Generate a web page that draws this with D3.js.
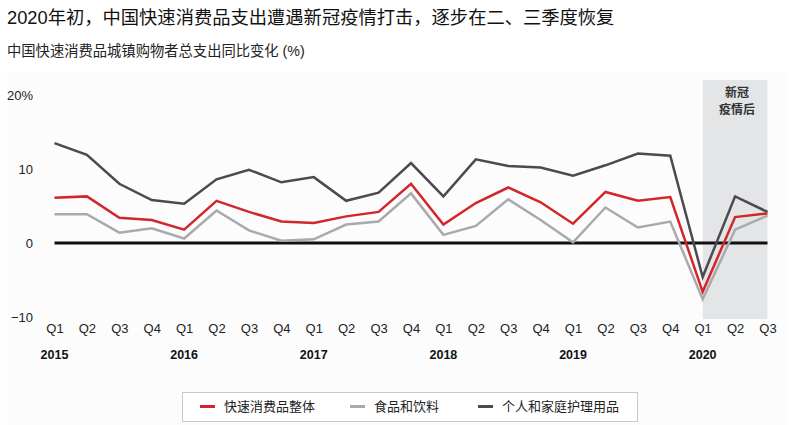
<!DOCTYPE html>
<html>
<head>
<meta charset="utf-8">
<script src="https://cdn.jsdelivr.net/npm/d3@7"></script>
<style>
	body { margin: 0; background: #fff; }
	svg { display: block; font-family: "Liberation Sans", Arial, "Noto Sans CJK SC", sans-serif; }
</style>
</head>
<body>
<div id="chart"></div>
<script>
const quarters = ["Q1","Q2","Q3","Q4","Q1","Q2","Q3","Q4","Q1","Q2","Q3","Q4","Q1","Q2","Q3","Q4","Q1","Q2","Q3","Q4","Q1","Q2","Q3"];
const years = ["2015","2016","2017","2018","2019","2020"];
const yTicks = [-10, 0, 10, 20];

// 快速消费品整体
const overall = [6.1, 6.3, 3.4, 3.1, 1.8, 5.7, 4.2, 2.9, 2.7, 3.6, 4.2, 8.0, 2.5, 5.4, 7.5, 5.5, 2.6, 6.9, 5.7, 6.2, -6.6, 3.5, 4.0];
// 食品和饮料
const food = [3.9, 3.9, 1.4, 2.0, 0.6, 4.4, 1.7, 0.3, 0.5, 2.5, 2.9, 6.7, 1.1, 2.3, 5.9, 3.1, 0.1, 4.8, 2.1, 2.9, -7.6, 1.8, 3.7];
// 个人和家庭护理用品
const personal = [13.5, 11.9, 8.0, 5.8, 5.3, 8.6, 9.9, 8.2, 8.9, 5.7, 6.8, 10.8, 6.3, 11.3, 10.4, 10.2, 9.1, 10.5, 12.1, 11.8, -4.6, 6.3, 4.2];

const series = [
	{ name: "快速消费品整体", values: overall, color: "#d2262b" },
	{ name: "食品和饮料", values: food, color: "#a9aaac" },
	{ name: "个人和家庭护理用品", values: personal, color: "#4b4b4d" }
];

const W = 799, H = 425;
const svg = d3.select("#chart").append("svg").attr("width", W).attr("height", H);

// faint panel behind the chart
svg.append("rect").attr("x", 7).attr("y", 72).attr("width", 780).attr("height", H - 72).attr("fill", "#fcfcfc");

svg.append("text").attr("x", 7).attr("y", 24)
	.attr("font-size", 18.3).attr("fill", "#111")
	.text("2020年初，中国快速消费品支出遭遇新冠疫情打击，逐步在二、三季度恢复");
svg.append("text").attr("x", 7).attr("y", 56)
	.attr("font-size", 14.3).attr("fill", "#222")
	.text("中国快速消费品城镇购物者总支出同比变化 (%)");

const idx = d3.range(quarters.length);
const x = d3.scaleLinear().domain([0, quarters.length - 1]).range([54.5, 767.5]);
const y = d3.scaleLinear().domain([-10, 20]).range([317, 95]);

// post-covid shaded band
svg.append("rect")
	.attr("x", x(20)).attr("y", 80)
	.attr("width", x(22) - x(20)).attr("height", 319 - 80)
	.attr("fill", "#e4e5e7");
svg.append("text").attr("x", (x(20) + x(22)) / 2 + 2).attr("y", 97)
	.attr("text-anchor", "middle").attr("font-size", 12).attr("font-weight", "bold").attr("fill", "#333")
	.text("新冠");
svg.append("text").attr("x", (x(20) + x(22)) / 2 + 2).attr("y", 114)
	.attr("text-anchor", "middle").attr("font-size", 12).attr("font-weight", "bold").attr("fill", "#333")
	.text("疫情后");

// y axis labels
const yAxis = d3.axisLeft(y).tickValues(yTicks).tickSize(0).tickPadding(0)
	.tickFormat(d => d === 20 ? "20%" : (d < 0 ? "\u2212" + Math.abs(d) : d));
const gy = svg.append("g").attr("transform", "translate(33,0)").call(yAxis);
gy.select(".domain").remove();
gy.selectAll("text").attr("font-size", 13).attr("fill", "#222").attr("font-family", "Liberation Sans, Arial, sans-serif");

// x axis labels
const xAxis = d3.axisBottom(x).tickValues(idx).tickSize(0).tickPadding(0).tickFormat(i => quarters[i]);
const gx = svg.append("g").attr("transform", "translate(0,324)").call(xAxis);
gx.select(".domain").remove();
gx.selectAll("text").attr("font-size", 13).attr("fill", "#222").attr("font-family", "Liberation Sans, Arial, sans-serif");

svg.append("g").selectAll("text").data(years).join("text")
	.attr("x", (d, i) => x(i * 4)).attr("y", 359)
	.attr("text-anchor", "middle").attr("font-size", 12.5).attr("font-weight", "bold").attr("fill", "#111")
	.text(d => d);

// zero line
svg.append("line")
	.attr("x1", x(0)).attr("x2", x(22))
	.attr("y1", y(0)).attr("y2", y(0))
	.attr("stroke", "#111").attr("stroke-width", 3);

const line = d3.line().x((d, i) => x(i)).y(d => y(d));
svg.append("g").selectAll("path").data(series).join("path")
	.attr("d", s => line(s.values))
	.attr("fill", "none")
	.attr("stroke", s => s.color)
	.attr("stroke-width", 2.5)
	.attr("stroke-linejoin", "miter");

// legend
const lg = svg.append("g");
lg.append("rect").attr("x", 182.5).attr("y", 392.5).attr("width", 455).attr("height", 29)
	.attr("fill", "#fff").attr("stroke", "#c8c8c8");
const legendX = [200, 350, 478];
series.forEach((s, i) => {
	lg.append("line").attr("x1", legendX[i]).attr("x2", legendX[i] + 15)
		.attr("y1", 406.5).attr("y2", 406.5)
		.attr("stroke", s.color).attr("stroke-width", 3);
	lg.append("text").attr("x", legendX[i] + 24).attr("y", 411)
		.attr("font-size", 13).attr("fill", "#222").text(s.name);
});
</script>
</body>
</html>
